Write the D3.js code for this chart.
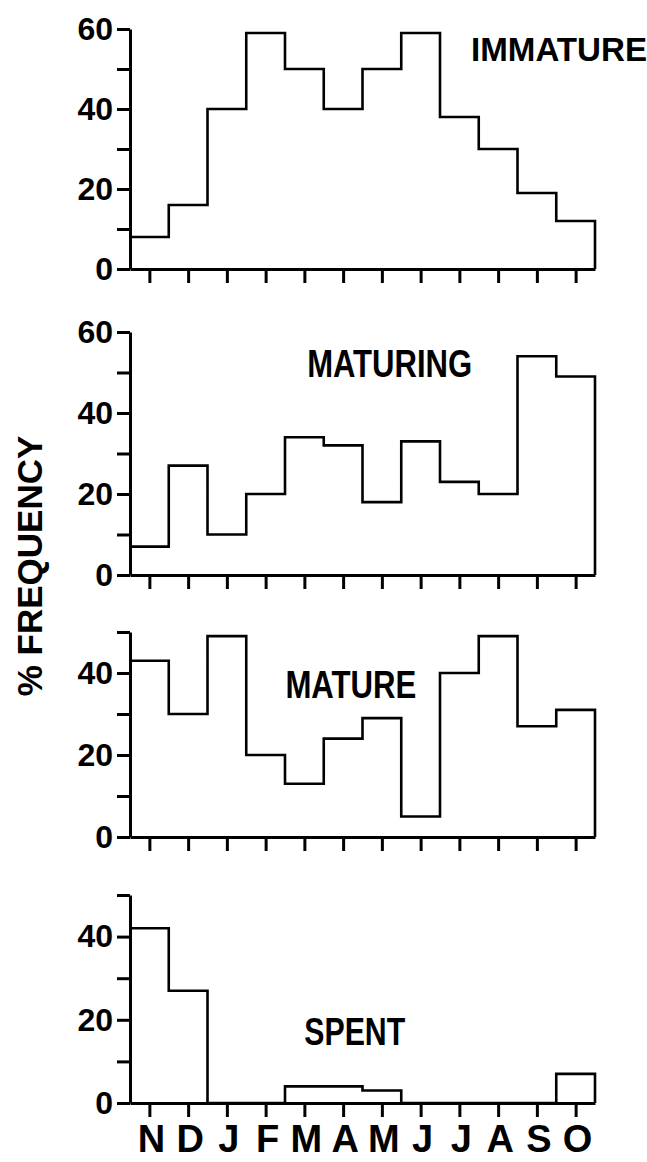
<!DOCTYPE html>
<html>
  <head>
    <meta charset="utf-8">
    <title>Gonad stages by month</title>
    <script src="https://cdnjs.cloudflare.com/ajax/libs/d3/7.8.5/d3.min.js"></script>
    <style>
      body { margin: 0; background: #fff; }
      svg { display: block; }
      .axis path, .axis line { stroke: #000; stroke-width: 3; }
      .axis text { font-family: "Liberation Sans", Arial, sans-serif; font-weight: bold; font-size: 32px; fill: #000; }
      .step { fill: none; stroke: #000; stroke-width: 2.6; }
      .title { font-family: "Liberation Sans Narrow", "Liberation Sans", Arial, sans-serif; font-weight: bold; fill: #000; }
    </style>
  </head>
  <body>
    <div id="chart"></div>
    <script>
      // data
      const months = ["N", "D", "J", "F", "M", "A", "M", "J", "J", "A", "S", "O"];
      const immature = [8, 16, 40, 59, 50, 40, 50, 59, 38, 30, 19, 12];
      const maturing = [7, 27, 10, 20, 34, 32, 18, 33, 23, 20, 54, 49];
      const mature = [43, 30, 49, 20, 13, 24, 29, 5, 40, 49, 27, 31];
      const spent = [42, 27, 0, 0, 4, 4, 3, 0, 0, 0, 0, 7];
      const stageNames = ["IMMATURE", "MATURING", "MATURE", "SPENT"];
      const yMax = [60, 60, 50, 50];
      const yLabels = [0, 20, 40, 60];

      const width = 647, height = 1162;
      const svg = d3.select("#chart").append("svg")
        .attr("width", width)
        .attr("height", height);

      // shared month scale, one bin per month
      const x = d3.scaleLinear().domain([0, 12]).range([130, 595]);

      // pixel layout of each panel: baseline and top of axis
      const panels = [
        { values: immature, y0: 269, y1: 29, title: { x: 8.8, y: 52, size: 33, len: 176, anchor: "start" } },
        { values: maturing, y0: 575, y1: 332, title: { x: 6.7, y: 49, size: 38, len: 165, anchor: "middle" } },
        { values: mature, y0: 837, y1: 632, title: { x: 5.7, y: 34, size: 38, len: 131, anchor: "middle" } },
        { values: spent, y0: 1103, y1: 895, title: { x: 5.8, y: 14, size: 38, len: 101, anchor: "middle" } }
      ];

      const line = d3.line().curve(d3.curveStepAfter);

      panels.forEach(function(p, k) {
        const y = d3.scaleLinear().domain([0, yMax[k]]).range([p.y0, p.y1]);
        const g = svg.append("g");

        // y axis, ticks every 10, labels every 20
        g.append("g")
          .attr("class", "axis")
          .attr("transform", "translate(" + x(0) + ",0)")
          .call(d3.axisLeft(y)
            .tickValues(d3.range(0, yMax[k] + 1, 10))
            .tickSize(13)
            .tickSizeOuter(0)
            .tickPadding(4)
            .tickFormat(d => yLabels.includes(d) ? d : ""));

        // x axis with ticks at bin centres
        g.append("g")
          .attr("class", "axis")
          .attr("transform", "translate(0," + y(0) + ")")
          .call(d3.axisBottom(x)
            .tickValues(d3.range(12).map(i => i + 0.5))
            .tickSize(14)
            .tickSizeOuter(0)
            .tickFormat(""));

        // step outline
        const pts = p.values.map((v, i) => [x(i), y(v)]);
        pts.push([x(12), y(p.values[11])]);
        pts.push([x(12), y(0)]);
        g.append("path")
          .attr("class", "step")
          .attr("d", line(pts));

        // stage name
        g.append("text")
          .attr("class", "title")
          .attr("x", x(p.title.x))
          .attr("y", y(p.title.y))
          .attr("text-anchor", p.title.anchor)
          .style("font-size", p.title.size + "px")
          .attr("textLength", p.title.len)
          .attr("lengthAdjust", "spacingAndGlyphs")
          .text(stageNames[k]);

        // month labels under the last panel
        if (k == panels.length - 1) {
          g.selectAll(".month")
            .data(months)
            .enter().append("text")
              .attr("class", "title")
              .attr("x", (d, i) => x(i + 0.5) + 2)
              .attr("y", y(0) + 49)
              .attr("text-anchor", "middle")
              .style("font-size", "38px")
              .text(d => d);
        }
      });

      // shared y label
      svg.append("text")
        .attr("class", "title")
        .attr("transform", "translate(42,566) rotate(-90)")
        .attr("text-anchor", "middle")
        .style("font-family", "'Liberation Sans', Arial, sans-serif")
        .style("font-size", "35px")
        .text("% FREQUENCY");
    </script>
  </body>
</html>
